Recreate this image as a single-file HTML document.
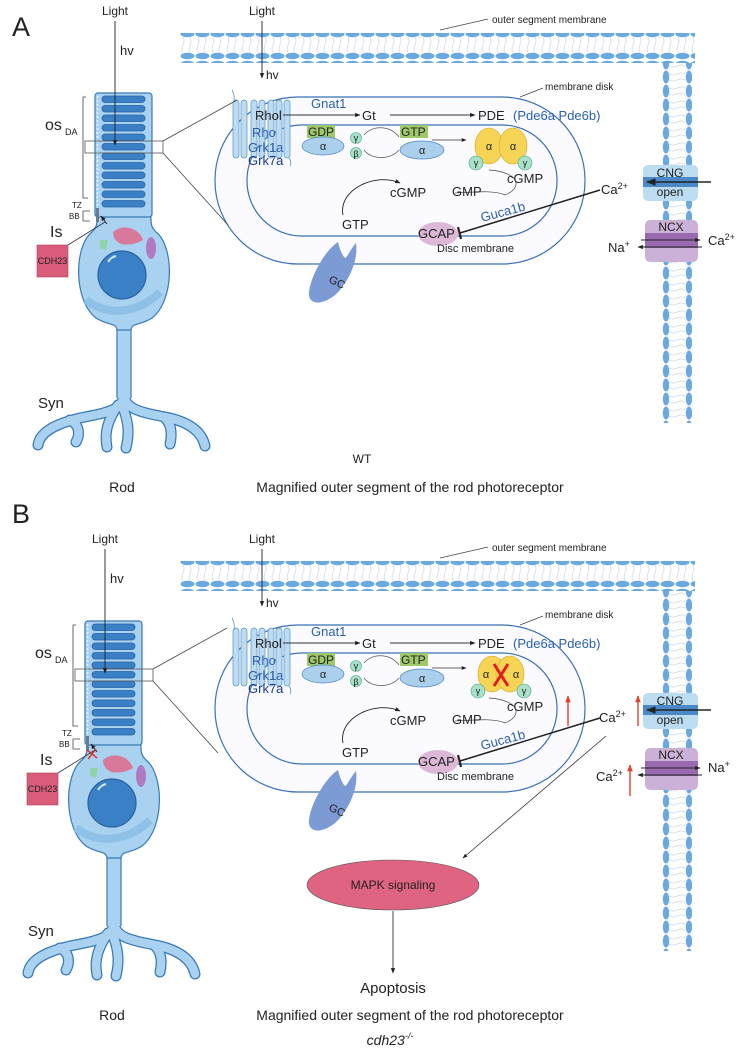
<!DOCTYPE html>
<html><head><meta charset="utf-8"><style>
html,body{margin:0;padding:0;background:#fff;}
svg{display:block;font-family:"Liberation Sans",sans-serif;}
</style></head><body>
<svg width="743" height="1060" viewBox="0 0 743 1060" xmlns="http://www.w3.org/2000/svg">
<defs>
<marker id="ar" viewBox="0 0 10 10" refX="9" refY="5" markerWidth="6" markerHeight="6" orient="auto-start-reverse"><path d="M0,1 L10,5 L0,9 Z" fill="#222"/></marker>
<marker id="arr" viewBox="0 0 10 10" refX="9" refY="5" markerWidth="5" markerHeight="6" orient="auto"><path d="M0,1 L10,5 L0,9 Z" fill="#e0402a"/></marker>
<pattern id="hm" x="0" y="0" width="15" height="30" patternUnits="userSpaceOnUse">
<path d="M3,7 q2,4 0,8 q-2,4 0,8 M10,7 q2,4 0,8 q-2,4 0,8" stroke="#d0d8e4" stroke-width="0.8" fill="none"/>
<ellipse cx="7.5" cy="4" rx="7" ry="3.2" fill="#6aa8e0"/>
<ellipse cx="7.5" cy="26" rx="7" ry="3.2" fill="#6aa8e0"/>
</pattern>
<pattern id="vm" x="662" y="0" width="30" height="14" patternUnits="userSpaceOnUse">
<path d="M7,4 q4,2 8,0 q4,-2 8,0 M7,10 q4,2 8,0 q4,-2 8,0" stroke="#d0d8e4" stroke-width="0.8" fill="none"/>
<ellipse cx="4" cy="7" rx="3.2" ry="6.5" fill="#6aa8e0"/>
<ellipse cx="27" cy="7" rx="3.2" ry="6.5" fill="#6aa8e0"/>
</pattern>

<g id="cell">
<!-- dendrites -->
<g fill="none" stroke-linecap="round">
<g stroke="#3a78b8" stroke-width="11">
<path d="M124,330 L124,392 C124,410 110,412 80,418 C55,424 40,432 38,445"/>
<path d="M70,420 C80,425 80,435 76,442"/>
<path d="M118,405 C108,420 104,432 107,447"/>
<path d="M122,405 C128,420 130,432 126,448"/>
<path d="M124,392 C124,410 140,412 170,418 C190,423 202,432 205,446"/>
<path d="M165,418 C172,425 172,435 170,444"/>
</g>
<g stroke="#a8d2ef" stroke-width="8.5">
<path d="M124,330 L124,392 C124,410 110,412 80,418 C55,424 40,432 38,445"/>
<path d="M70,420 C80,425 80,435 76,442"/>
<path d="M118,405 C108,420 104,432 107,447"/>
<path d="M122,405 C128,420 130,432 126,448"/>
<path d="M124,392 C124,410 140,412 170,418 C190,423 202,432 205,446"/>
<path d="M165,418 C172,425 172,435 170,444"/>
</g>
</g>
<rect x="117" y="318" width="14" height="80" fill="#a8d2ef"/>
<path d="M117,318 L117,398 M131,318 L131,398" stroke="#3a78b8" stroke-width="1.2"/>
<!-- body -->
<path d="M97,212 L151,212 C151,222 150,226 156,232 C174,246 175,300 152,318 C140,326 132,322 131,330 L117,330 C116,322 108,326 96,318 C73,300 74,246 92,232 C98,226 97,222 97,212 Z" fill="#a8d2ef" stroke="#3a78b8" stroke-width="1.2"/>
<path d="M86,300 C110,318 140,312 160,292" stroke="#8fc0e6" stroke-width="8" fill="none"/>
<circle cx="122" cy="275" r="24" fill="#3a80c6" stroke="#2a62a0" stroke-width="1.2"/>
<path d="M108,262 q3,-5 8,-6" stroke="#cfe6f8" stroke-width="2" fill="none"/>
<!-- OS -->
<rect x="95" y="93" width="57" height="124" rx="3" fill="#a8d2ef" stroke="#3a78b8" stroke-width="1.2"/>
<g fill="#3a80c6" stroke="#2a62a0" stroke-width="0.8">
<rect x="102" y="96" width="43" height="6.5" rx="3.2"/><rect x="102" y="105.5" width="43" height="6.5" rx="3.2"/>
<rect x="102" y="115" width="43" height="6.5" rx="3.2"/><rect x="102" y="124.5" width="43" height="6.5" rx="3.2"/>
<rect x="102" y="134" width="43" height="6.5" rx="3.2"/><rect x="102" y="143.5" width="43" height="6.5" rx="3.2"/>
<rect x="102" y="153" width="43" height="6.5" rx="3.2"/><rect x="102" y="162.5" width="43" height="6.5" rx="3.2"/>
<rect x="102" y="172" width="43" height="6.5" rx="3.2"/><rect x="102" y="181.5" width="43" height="6.5" rx="3.2"/>
<rect x="102" y="191" width="43" height="6.5" rx="3.2"/><rect x="102" y="200.5" width="43" height="6.5" rx="3.2"/>
</g>
<line x1="97.5" y1="96" x2="97.5" y2="210" stroke="#e8f2fb" stroke-width="1.5" stroke-dasharray="2,2"/>
<rect x="96" y="208" width="3" height="14" fill="#6a7a90"/>
<!-- organelles -->
<path d="M113,232 q10,-8 22,-2 q6,4 8,10 q-10,6 -22,4 q-8,-4 -8,-12z" fill="#e06a8a" opacity="0.85"/>
<path d="M100,240 l8,0 l-2,10 l-6,-2 z" fill="#8fd4a8"/>
<ellipse cx="151" cy="248" rx="5" ry="11" fill="#b07ac0"/>
<!-- brackets -->
<g stroke="#444" stroke-width="0.8" fill="none">
<path d="M86,97 L83,97 L83,198 L86,198"/>
<path d="M83,211 L90,211 M83,221 L90,221 M83,211 L83,221"/>
<path d="M86,198 L88,198"/>
</g>
<rect x="85" y="141" width="78" height="12" fill="none" stroke="#555" stroke-width="0.8"/>
<line x1="163" y1="141" x2="237" y2="100" stroke="#444" stroke-width="0.8"/>
<line x1="163" y1="153" x2="228" y2="225" stroke="#444" stroke-width="0.8"/>
<rect x="37" y="245" width="31" height="32" fill="#d95c7a" stroke="#b04060" stroke-width="0.6"/>
<line x1="68" y1="245" x2="105" y2="222" stroke="#333" stroke-width="0.8"/>
<line x1="107" y1="224" x2="101" y2="216" stroke="#222" stroke-width="0.9" marker-end="url(#ar)"/>
<line x1="115" y1="21" x2="115" y2="145" stroke="#222" stroke-width="0.9" marker-end="url(#ar)"/>
</g>

<g id="os">
<rect x="180" y="33" width="515" height="30" fill="url(#hm)"/>
<rect x="662" y="63" width="30" height="360" fill="url(#vm)"/>
<line x1="440" y1="30" x2="488" y2="19" stroke="#444" stroke-width="0.7"/>
<line x1="262" y1="21" x2="262" y2="78" stroke="#222" stroke-width="0.9" marker-end="url(#ar)"/>
<rect x="215" y="97" width="370" height="167" rx="83" fill="#fbfaff" stroke="#3a70b8" stroke-width="1.2"/>
<rect x="247" y="125" width="310" height="111" rx="55" fill="#fbfaff" stroke="#3a70b8" stroke-width="1.2"/>
<line x1="520" y1="97" x2="543" y2="88" stroke="#444" stroke-width="0.7"/>
<g fill="#bcdcf2" stroke="#5a90c8" stroke-width="0.7">
<rect x="233" y="100" width="6" height="58" rx="3"/><rect x="241" y="100" width="6" height="58" rx="3"/>
<rect x="251" y="100" width="6" height="58" rx="3"/><rect x="259" y="100" width="6" height="58" rx="3"/>
<rect x="268" y="100" width="6" height="58" rx="3"/><rect x="276" y="100" width="6" height="58" rx="3"/>
<rect x="284" y="100" width="6" height="58" rx="3"/>
</g>
<path d="M232,90 q3,5 2,12 M289,158 q3,4 1,8" stroke="#5a90c8" fill="none" stroke-width="0.8"/>
<line x1="283" y1="115" x2="360" y2="115" stroke="#333" stroke-width="0.9" marker-end="url(#ar)"/>
<line x1="390" y1="115" x2="475" y2="115" stroke="#333" stroke-width="0.9" marker-end="url(#ar)"/>
<rect x="307" y="125" width="28" height="13" fill="#9ec86a"/>
<ellipse cx="323" cy="146" rx="21" ry="9" fill="#aad0ec" stroke="#4a88c8" stroke-width="0.7"/>
<circle cx="356" cy="138" r="5.5" fill="#a8e0c8" stroke="#4aa888" stroke-width="0.6"/>
<circle cx="356" cy="153" r="5.5" fill="#a8e0c8" stroke="#4aa888" stroke-width="0.6"/>
<path d="M364,135 C372,125 390,125 399,137 M364,150 C372,160 390,160 399,150" stroke="#555" fill="none" stroke-width="0.7"/>
<rect x="400" y="125" width="28" height="13" fill="#9ec86a"/>
<ellipse cx="422" cy="150" rx="22" ry="9" fill="#aad0ec" stroke="#4a88c8" stroke-width="0.7"/>
<line x1="432" y1="140" x2="466" y2="140" stroke="#333" stroke-width="0.8" marker-end="url(#ar)"/>
<path d="M489,170 C520,172 523,188 505,195 M455,193 C475,192 495,190 505,195" stroke="#444" fill="none" stroke-width="0.7"/>
<path d="M343,215 C338,190 375,172 400,183" stroke="#222" fill="none" stroke-width="0.9" marker-end="url(#ar)"/>
<ellipse cx="438" cy="234" rx="20" ry="12" fill="#dcb8d8"/>
<path d="M338,242 C325,250 308,280 309,296 C312,308 330,302 340,290 C352,275 358,258 356,243 C350,250 347,258 345,258 C342,255 340,250 338,242 Z" fill="#7c9ad4"/>
<g fill="#bcdcf2"><rect x="643" y="165" width="55" height="36" rx="5"/></g>
<rect x="643" y="177" width="55" height="10" fill="#4a88c8"/>
<line x1="711" y1="182" x2="647" y2="182" stroke="#222" stroke-width="1.6" marker-end="url(#ar)"/>
<rect x="645" y="220" width="53" height="42" rx="5" fill="#cbb0d8"/>
<rect x="645" y="233" width="53" height="15" fill="#9a6ab0"/>
</g>
</defs>

<!-- PANEL A -->
<use href="#os"/>
<use href="#cell"/>
<line x1="600" y1="190" x2="460" y2="233" stroke="#222" stroke-width="1.5"/>
<line x1="458" y1="227" x2="461" y2="239" stroke="#222" stroke-width="2.2"/>
<line x1="641" y1="240" x2="700" y2="240" stroke="#222" stroke-width="0.9" marker-end="url(#ar)"/>
<line x1="702" y1="247" x2="638" y2="247" stroke="#222" stroke-width="0.9" marker-end="url(#ar)"/>
<ellipse cx="489" cy="146" rx="14" ry="18" fill="#f6d456" stroke="#d4a820" stroke-width="0.6"/>
<ellipse cx="513" cy="146" rx="14" ry="18" fill="#f6d456" stroke="#d4a820" stroke-width="0.6"/>
<circle cx="476" cy="163" r="7" fill="#a8e0c8" stroke="#4aa888" stroke-width="0.6"/>
<circle cx="525" cy="163" r="7" fill="#a8e0c8" stroke="#4aa888" stroke-width="0.6"/>

<g fill="#222" font-size="13">
<text x="12" y="36" font-size="27">A</text>
<text x="115" y="15" text-anchor="middle" font-size="12">Light</text>
<text x="120" y="55" font-size="13">hv</text>
<text x="45" y="130" font-size="16">os</text>
<text x="65" y="135" font-size="9">DA</text>
<text x="72" y="208" font-size="8">TZ</text>
<text x="69" y="219" font-size="8">BB</text>
<text x="50" y="237" font-size="16">Is</text>
<text x="52.5" y="264" font-size="9" text-anchor="middle">CDH23</text>
<text x="38" y="408" font-size="15">Syn</text>
<text x="262" y="15" text-anchor="middle" font-size="12">Light</text>
<text x="266" y="79" font-size="12">hv</text>
<text x="492" y="23" font-size="10">outer segment membrane</text>
<text x="545" y="90" font-size="10">membrane disk</text>
<text x="255" y="120" font-size="13">Rhol</text>
<text x="252" y="137" fill="#2a60b0">Rho</text>
<text x="248" y="152" fill="#2a60b0">Grk1a</text>
<text x="248" y="165" fill="#1a3a8a">Grk7a</text>
<text x="311" y="108" fill="#2a60b0">Gnat1</text>
<text x="362" y="120">Gt</text>
<text x="478" y="120">PDE</text>
<text x="513" y="120" fill="#2a60b0">(Pde6a  Pde6b)</text>
<text x="308" y="136" font-size="12">GDP</text>
<text x="401" y="136" font-size="12">GTP</text>
<text x="323" y="150" font-size="11" text-anchor="middle">α</text>
<text x="356" y="141" font-size="9" text-anchor="middle">γ</text>
<text x="356" y="157" font-size="9" text-anchor="middle">β</text>
<text x="422" y="154" font-size="11" text-anchor="middle">α</text>
<text x="489" y="150" font-size="11" text-anchor="middle">α</text>
<text x="513" y="150" font-size="11" text-anchor="middle">α</text>
<text x="476" y="166" font-size="9" text-anchor="middle">γ</text>
<text x="525" y="166" font-size="9" text-anchor="middle">γ</text>
<text x="507" y="183">cGMP</text>
<text x="452" y="196">GMP</text>
<text x="390" y="197">cGMP</text>
<text x="342" y="229">GTP</text>
<text x="482" y="222" fill="#2a60b0" transform="rotate(-15 482 222)">Guca1b</text>
<text x="418" y="238">GCAP</text>
<text x="437" y="252" font-size="11">Disc membrane</text>
<text x="328" y="282" font-size="11" transform="rotate(25 328 282)">GC</text>
<text x="601" y="194">Ca<tspan font-size="9" dy="-5">2+</tspan></text>
<text x="670" y="177" text-anchor="middle" font-size="12">CNG</text>
<text x="670" y="196" text-anchor="middle" font-size="12">open</text>
<text x="671" y="231" text-anchor="middle" font-size="12">NCX</text>
<text x="608" y="252">Na<tspan font-size="9" dy="-5">+</tspan></text>
<text x="708" y="245">Ca<tspan font-size="9" dy="-5">2+</tspan></text>
<text x="362" y="463" text-anchor="middle" font-size="12">WT</text>
<text x="122" y="492" text-anchor="middle" font-size="14">Rod</text>
<text x="410" y="492" text-anchor="middle" font-size="14">Magnified outer segment of the rod photoreceptor</text>
</g>

<!-- PANEL B -->
<g transform="translate(0,528)">
<use href="#os"/>
<rect x="662" y="423" width="30" height="2" fill="none"/>
<use href="#cell" x="-10"/>
<line x1="600" y1="190" x2="460" y2="233" stroke="#222" stroke-width="1.5"/>
<line x1="458" y1="227" x2="461" y2="239" stroke="#222" stroke-width="2.2"/>
<line x1="641" y1="240" x2="700" y2="240" stroke="#222" stroke-width="0.9" marker-end="url(#ar)"/>
<line x1="702" y1="247" x2="638" y2="247" stroke="#222" stroke-width="0.9" marker-end="url(#ar)"/>
<ellipse cx="492" cy="146" rx="14" ry="18" fill="#f6d456" stroke="#d4a820" stroke-width="0.6"/>
<ellipse cx="510" cy="146" rx="14" ry="18" fill="#f6d456" stroke="#d4a820" stroke-width="0.6"/>
<circle cx="478" cy="163" r="7" fill="#a8e0c8" stroke="#4aa888" stroke-width="0.6"/>
<circle cx="524" cy="163" r="7" fill="#a8e0c8" stroke="#4aa888" stroke-width="0.6"/>
<path d="M494,136 L508,158 M508,136 L494,158" stroke="#e02020" stroke-width="3"/>
<path d="M87,222 L97,230 M96,221 L88,231" stroke="#e02020" stroke-width="1.4"/>
<line x1="568" y1="198" x2="568" y2="168" stroke="#e0402a" stroke-width="1.4" marker-end="url(#arr)"/>
<line x1="638" y1="198" x2="638" y2="168" stroke="#e0402a" stroke-width="1.4" marker-end="url(#arr)"/>
<line x1="630" y1="268" x2="630" y2="237" stroke="#e0402a" stroke-width="1.4" marker-end="url(#arr)"/>
<line x1="606" y1="208" x2="463" y2="330" stroke="#333" stroke-width="0.8" marker-end="url(#ar)"/>
<ellipse cx="393" cy="357" rx="86" ry="25" fill="#de6482" stroke="#555" stroke-width="0.6"/>
<line x1="393" y1="383" x2="393" y2="445" stroke="#333" stroke-width="0.9" marker-end="url(#ar)"/>
</g>
<g fill="#222" font-size="13">
<text x="12" y="523" font-size="27">B</text>
<text x="105" y="543" text-anchor="middle" font-size="12">Light</text>
<text x="110" y="583" font-size="13">hv</text>
<text x="35" y="658" font-size="16">os</text>
<text x="55" y="663" font-size="9">DA</text>
<text x="62" y="736" font-size="8">TZ</text>
<text x="59" y="747" font-size="8">BB</text>
<text x="40" y="765" font-size="16">Is</text>
<text x="42.5" y="792" font-size="9" text-anchor="middle">CDH23</text>
<text x="28" y="936" font-size="15">Syn</text>
<text x="262" y="543" text-anchor="middle" font-size="12">Light</text>
<text x="266" y="607" font-size="12">hv</text>
<text x="492" y="551" font-size="10">outer segment membrane</text>
<text x="545" y="618" font-size="10">membrane disk</text>
<text x="255" y="648" font-size="13">Rhol</text>
<text x="252" y="665" fill="#2a60b0">Rho</text>
<text x="248" y="680" fill="#2a60b0">Grk1a</text>
<text x="248" y="693" fill="#1a3a8a">Grk7a</text>
<text x="311" y="636" fill="#2a60b0">Gnat1</text>
<text x="362" y="648">Gt</text>
<text x="478" y="648">PDE</text>
<text x="513" y="648" fill="#2a60b0">(Pde6a  Pde6b)</text>
<text x="308" y="664" font-size="12">GDP</text>
<text x="401" y="664" font-size="12">GTP</text>
<text x="323" y="678" font-size="11" text-anchor="middle">α</text>
<text x="356" y="669" font-size="9" text-anchor="middle">γ</text>
<text x="356" y="685" font-size="9" text-anchor="middle">β</text>
<text x="422" y="682" font-size="11" text-anchor="middle">α</text>
<text x="486" y="678" font-size="11" text-anchor="middle">α</text>
<text x="516" y="678" font-size="11" text-anchor="middle">α</text>
<text x="478" y="694" font-size="9" text-anchor="middle">γ</text>
<text x="524" y="694" font-size="9" text-anchor="middle">γ</text>
<text x="507" y="711">cGMP</text>
<text x="452" y="724">GMP</text>
<text x="390" y="725">cGMP</text>
<text x="342" y="757">GTP</text>
<text x="482" y="750" fill="#2a60b0" transform="rotate(-15 482 750)">Guca1b</text>
<text x="418" y="766">GCAP</text>
<text x="437" y="780" font-size="11">Disc membrane</text>
<text x="328" y="810" font-size="11" transform="rotate(25 328 810)">GC</text>
<text x="599" y="722">Ca<tspan font-size="9" dy="-5">2+</tspan></text>
<text x="670" y="705" text-anchor="middle" font-size="12">CNG</text>
<text x="670" y="724" text-anchor="middle" font-size="12">open</text>
<text x="671" y="759" text-anchor="middle" font-size="12">NCX</text>
<text x="596" y="781">Ca<tspan font-size="9" dy="-5">2+</tspan></text>
<text x="708" y="772">Na<tspan font-size="9" dy="-5">+</tspan></text>
<text x="393" y="889" text-anchor="middle" font-size="12">MAPK signaling</text>
<text x="393" y="993" text-anchor="middle" font-size="15">Apoptosis</text>
<text x="112" y="1020" text-anchor="middle" font-size="14">Rod</text>
<text x="410" y="1020" text-anchor="middle" font-size="14">Magnified outer segment of the rod photoreceptor</text>
<text x="390" y="1045" text-anchor="middle" font-size="14" font-style="italic">cdh23<tspan font-size="9" dy="-6">-/-</tspan></text>
</g>
</svg>
</body></html>
